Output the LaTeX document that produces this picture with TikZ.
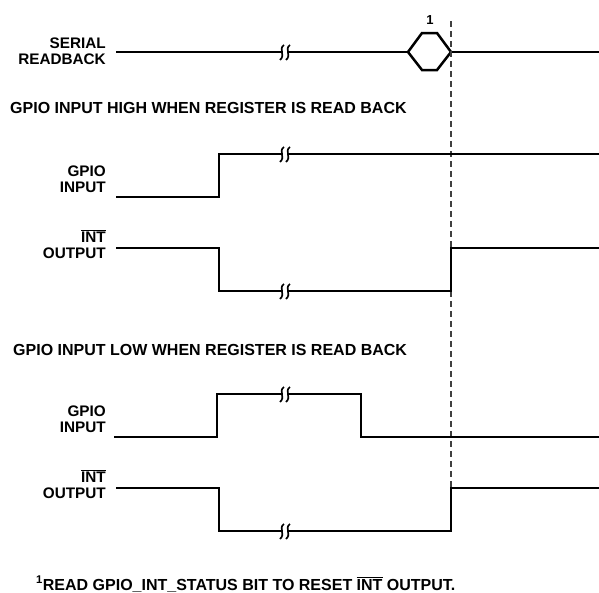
\documentclass[tikz,border=0pt]{standalone}
\usepackage{fontspec}
\setmainfont{Liberation Sans}[BoldFont=Liberation Sans Bold]
\usetikzlibrary{positioning}

\newcommand{\intbar}{$\overline{\mbox{INT}}$}

\begin{document}
\begin{tikzpicture}[x=1pt, y=-1pt,
        wave/.style={line width=2.5pt, line join=miter},
        sig/.style={font=\fontsize{15.3}{16}\selectfont\bfseries, align=right, anchor=east, inner sep=0pt},
        head/.style={font=\fontsize{16}{18}\selectfont\bfseries, anchor=west, inner sep=0pt},
        marker/.style={dash pattern=on 6pt off 4pt, line width=1.1pt, black!75},
        brk/.pic={
            \fill[white] (-3,-2) rectangle (3,2);
            \draw[line width=1.7pt] (-1,-7) .. controls (-7,-3) and (1,3) .. (-5,8);
            \draw[line width=1.7pt] (5,-7) .. controls (-1,-3) and (7,3) .. (1,8);
        }]

        \useasboundingbox (0,0) rectangle (599,592);

        % serial readback with the read marker
        \node[sig] (ser) at (106,51) {SERIAL\\READBACK};
        \coordinate (hl) at (408,52);
        \coordinate (hr) at (451,52);
        \draw[wave] (116,52) -- (hl);
        \draw[wave] (hl) -- (422,33) -- (437,33) -- (hr) -- (437,70) -- (422,70) -- cycle;
        \draw[wave] (hr) -- (599,52);
        \node[font=\fontsize{13}{14}\selectfont\bfseries, inner sep=0pt] (one) at (430,20) {1};
        \draw[marker] (451,21) -- (451,488);

        % input high case
        \node[head] (hiT) at (10,108) {GPIO INPUT HIGH WHEN REGISTER IS READ BACK};
        \node[sig] (gpioA) at (106,179) {GPIO\\INPUT};
        \draw[wave] (116,197) -- (219,197) -- (219,154) -- (599,154);
        \node[sig] (intA) at (106,244) {\intbar\\OUTPUT};
        \draw[wave] (116,248) -- (219,248) -- (219,291) -- (451,291) -- (451,248) -- (599,248);

        % input low case
        \node[head] (loT) at (13,350) {GPIO INPUT LOW WHEN REGISTER IS READ BACK};
        \node[sig] (gpioB) at (106,419) {GPIO\\INPUT};
        \draw[wave] (114,437) -- (217,437) -- (217,394) -- (361,394) -- (361,437) -- (599,437);
        \node[sig] (intB) at (106,484) {\intbar\\OUTPUT};
        \draw[wave] (116,488) -- (219,488) -- (219,531) -- (451,531) -- (451,488) -- (599,488);

        \foreach \y in {52,154,291,394,531}
            \pic at (285,\y) {brk};

        \node[head] (note) at (36,584) {\textsuperscript{1}READ GPIO\_INT\_STATUS BIT TO RESET \intbar{} OUTPUT.};

    \end{tikzpicture}
\end{document}
